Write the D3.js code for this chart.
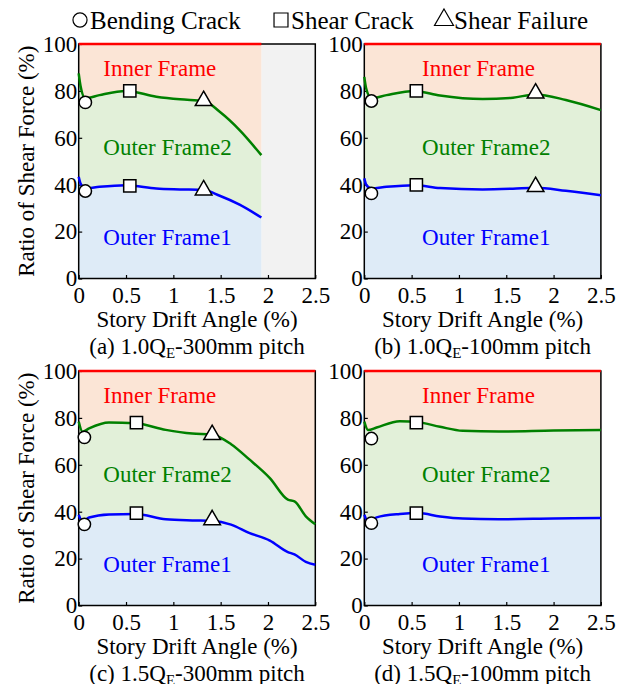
<!DOCTYPE html>
<html>
<head>
<meta charset="utf-8">
<script src="https://cdn.jsdelivr.net/npm/d3@7"></script>
<style>
  body { margin: 0; background: #fff; }
  .axis path { display: none; }
  .axis line { stroke: #000; stroke-width: 1.2; }
  .axis text { font-size: 23px; fill: #000; font-family: "Liberation Serif", serif; }
</style>
</head>
<body>
<svg width="617" height="684" font-family="Liberation Serif, serif"></svg>
<script>
// DATA
const xTicks = [0, 0.5, 1, 1.5, 2, 2.5]
const yTicks = [0, 20, 40, 60, 80, 100]

// (a) 1.0QE-300mm pitch
const xA = [0, 0.02, 0.07, 0.22, 0.5, 0.82, 1.07, 1.32, 1.49, 1.7, 1.93]
const frame2A = [87.5, 82, 76.8, 78.2, 80, 77.5, 76.4, 75.8, 71.1, 63.3, 52.6]
const frame1A = [43.4, 40.5, 38.4, 39.1, 39.8, 38.4, 38.0, 37.7, 35.3, 31.5, 26.0]
const markA = [["circle", 0.07, 75.1], ["circle", 0.07, 37.3], ["square", 0.54, 80], ["square", 0.54, 39.5], ["triangle", 1.32, 75.8], ["triangle", 1.32, 37.7]]

// (b) 1.0QE-100mm pitch
const xB = [0, 0.02, 0.075, 0.235, 0.53, 0.8, 1.25, 1.57, 1.81, 2.13, 2.5]
const frame2B = [86, 81, 76.8, 78.2, 80, 78, 76.5, 77.1, 78.5, 76.1, 71.8]
const frame1B = [42.7, 40, 38.4, 39.1, 39.8, 38.6, 38.0, 38.3, 38.7, 37.4, 35.5]
const markB = [["circle", 0.075, 75.7], ["circle", 0.075, 36.3], ["square", 0.55, 80], ["square", 0.55, 39.9], ["triangle", 1.81, 79], ["triangle", 1.81, 39.1]]

// (c) 1.5QE-300mm pitch
const xC = [0, 0.04, 0.11, 0.32, 0.6, 0.92, 1.2, 1.41, 1.61, 1.8, 2.02, 2.21, 2.28, 2.4, 2.5]
const frame2C = [78.4, 74.1, 75.5, 78, 77.7, 74.9, 73.3, 72.8, 68.8, 62.4, 54.3, 45.1, 44.4, 38, 34.6]
const frame1C = [38.7, 35.8, 37.5, 38.8, 39.0, 36.8, 36.3, 36.1, 34.5, 31, 27.7, 22.8, 21.8, 18.6, 17.4]
const markC = [["circle", 0.06, 71.7], ["circle", 0.06, 34.6], ["square", 0.61, 78], ["square", 0.61, 39.4], ["triangle", 1.41, 72.8], ["triangle", 1.41, 36.5]]

// (d) 1.5QE-100mm pitch
const xD = [0, 0.04, 0.13, 0.375, 0.57, 0.8, 1.04, 1.42, 2.0, 2.5]
const frame2D = [78.4, 74.8, 75.9, 78.6, 78.2, 76.2, 74.5, 74.2, 74.6, 74.8]
const frame1D = [38.7, 35.8, 37.6, 39.0, 39.4, 38.0, 37.1, 36.8, 37.1, 37.3]
const markD = [["circle", 0.075, 71.2], ["circle", 0.075, 35.1], ["square", 0.55, 78], ["square", 0.55, 39.4]]

const regionNames = ["Inner Frame", "Outer Frame2", "Outer Frame1"]
const legendItems = [["circle", "Bending Crack"], ["square", "Shear Crack"], ["triangle", "Shear Failure"]]

// SETUP
const svg = d3.select("svg")
const W = 236.6, H = 234.5
const FONT = "Liberation Serif, serif"
const regionColors = ["#ff0000", "#008000", "#0000ff"]
const regionY = [86.2, 52.5, 14.2]

const panels = [
  { x: xA, f2: frame2A, f1: frame1A, marks: markA, left: 78.7, top: 44, tag: "(a) 1.0Q", rest: "-300mm pitch", ylab: true, lx: 0.26 },
  { x: xB, f2: frame2B, f1: frame1B, marks: markB, left: 364.3, top: 44, tag: "(b) 1.0Q", rest: "-100mm pitch", ylab: false, lx: 0.61 },
  { x: xC, f2: frame2C, f1: frame1C, marks: markC, left: 78.7, top: 371, tag: "(c) 1.5Q", rest: "-300mm pitch", ylab: true, lx: 0.26 },
  { x: xD, f2: frame2D, f1: frame1D, marks: markD, left: 364.3, top: 371, tag: "(d) 1.5Q", rest: "-100mm pitch", ylab: false, lx: 0.61 }
]

const scaleX = d3.scaleLinear().domain([0, 2.5]).range([0, W])
const scaleY = d3.scaleLinear().domain([0, 100]).range([H, 0])

const symbolPath = function (type, big) {
  const k = big ? 1.3 : 1
  if (type === "circle") return d3.symbol(d3.symbolCircle, 120 * k)()
  if (type === "square") return d3.symbol(d3.symbolSquare, 150 * k)()
  return d3.symbol(d3.symbolTriangle, 120 * k)()
}

panels.forEach((p) => {
  const g = svg.append("g").attr("transform", `translate(${p.left}, ${p.top})`)
  const rows = p.x.map((x, i) => ({ x: x, f1: p.f1[i], f2: p.f2[i] }))
  const xEnd = p.x[p.x.length - 1]

  // gray background beyond the data
  if (xEnd < 2.5) {
    g.append("rect")
      .attr("x", scaleX(xEnd)).attr("y", 0)
      .attr("width", W - scaleX(xEnd)).attr("height", H)
      .attr("fill", "#f2f2f2")
  }

  const curve = d3.curveMonotoneX
  g.append("path").datum(rows)
    .attr("fill", "#fbe5d6")
    .attr("d", d3.area().curve(curve).x(d => scaleX(d.x)).y0(d => scaleY(d.f2)).y1(scaleY(100)))
  g.append("path").datum(rows)
    .attr("fill", "#e2f0d9")
    .attr("d", d3.area().curve(curve).x(d => scaleX(d.x)).y0(d => scaleY(d.f1)).y1(d => scaleY(d.f2)))
  g.append("path").datum(rows)
    .attr("fill", "#deebf7")
    .attr("d", d3.area().curve(curve).x(d => scaleX(d.x)).y0(scaleY(0)).y1(d => scaleY(d.f1)))

  // frame
  g.append("rect").attr("width", W).attr("height", H)
    .attr("fill", "none").attr("stroke", "#000").attr("stroke-width", 1.5)

  // axes
  g.append("g").attr("class", "axis").attr("font-family", FONT)
    .attr("transform", `translate(0, ${H})`)
    .call(d3.axisBottom(scaleX).tickValues(xTicks).tickFormat(d => d).tickSizeInner(-3.5).tickSizeOuter(0).tickPadding(8))
  g.append("g").attr("class", "axis").attr("font-family", FONT)
    .call(d3.axisLeft(scaleY).tickValues(yTicks).tickSizeInner(-3.5).tickSizeOuter(0).tickPadding(1.5))

  // lines
  g.append("line")
    .attr("x1", 0).attr("x2", scaleX(xEnd))
    .attr("y1", scaleY(100)).attr("y2", scaleY(100))
    .attr("stroke", "#ff0000").attr("stroke-width", 2.5)
  g.append("path").datum(rows)
    .attr("fill", "none").attr("stroke", "#008000").attr("stroke-width", 2.5)
    .attr("d", d3.line().curve(curve).x(d => scaleX(d.x)).y(d => scaleY(d.f2)))
  g.append("path").datum(rows)
    .attr("fill", "none").attr("stroke", "#0000ff").attr("stroke-width", 2.5)
    .attr("d", d3.line().curve(curve).x(d => scaleX(d.x)).y(d => scaleY(d.f1)))

  // markers
  g.selectAll("path.mark").data(p.marks).enter()
    .append("path").attr("class", "mark")
    .attr("transform", d => `translate(${scaleX(d[1])}, ${scaleY(d[2])})`)
    .attr("d", d => symbolPath(d[0]))
    .attr("fill", "#fff").attr("stroke", "#000").attr("stroke-width", 1.5)

  // region labels
  regionNames.forEach((name, i) => {
    g.append("text")
      .attr("x", scaleX(p.lx)).attr("y", scaleY(regionY[i]))
      .attr("fill", regionColors[i]).attr("font-size", 23).attr("font-family", FONT)
      .text(name)
  })

  // axis titles
  g.append("text")
    .attr("x", W / 2).attr("y", H + 48)
    .attr("text-anchor", "middle").attr("font-size", 23).attr("font-family", FONT)
    .text("Story Drift Angle (%)")
  const cap = g.append("text")
    .attr("x", W / 2).attr("y", H + 75)
    .attr("text-anchor", "middle").attr("font-size", 23).attr("font-family", FONT)
  cap.append("tspan").text(p.tag)
  cap.append("tspan").attr("font-size", 15).attr("dy", 4).text("E")
  cap.append("tspan").attr("dy", -4).text(p.rest)

  if (p.ylab) {
    g.append("text")
      .attr("transform", `translate(-45, ${H / 2}) rotate(-90)`)
      .attr("text-anchor", "middle").attr("font-size", 23).attr("font-family", FONT)
      .text("Ratio of Shear Force (%)")
  }
})

// LEGEND
const legendX = [80, 281, 444]
legendItems.forEach((item, i) => {
  svg.append("path")
    .attr("transform", `translate(${legendX[i]}, 20)`)
    .attr("d", symbolPath(item[0], true))
    .attr("fill", "#fff").attr("stroke", "#000").attr("stroke-width", 1.2)
  svg.append("text")
    .attr("x", legendX[i] + 10).attr("y", 29)
    .attr("font-size", 25).attr("font-family", FONT)
    .text(item[1])
})
</script>
</body>
</html>
